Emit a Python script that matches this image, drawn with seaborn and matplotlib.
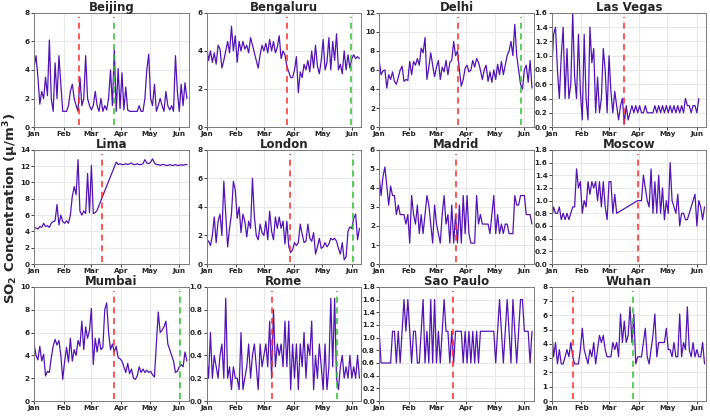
import numpy as np
import pandas as pd
import matplotlib
matplotlib.use("Agg")
import matplotlib.pyplot as plt
import matplotlib.dates as mdates
from matplotlib.ticker import MultipleLocator, FormatStrFormatter
import seaborn as sns

LINE_COLOR = "#5214b4"
TITLESIZE = 8.5
TICKSIZE = 5.2
nan = np.nan

# daily-ish samples, every 2 days from Jan 1 2020
dates = pd.date_range("2020-01-01", periods=81, freq="2D")

beijing = [4.2, 5.0, 3.5, 1.6, 2.5, 2.0, 3.5, 2.2, 6.1, 2.0,
           1.1, 4.5, 2.0, 5.0, 3.0, 1.1, 1.1, 1.1, 1.5, 2.5,
           3.0, 2.0, 1.5, 1.1, 3.5, 1.5, 2.0, 5.0, 2.0, 1.5,
           1.2, 1.5, 2.5, 1.5, 1.1, 2.0, 1.1, 1.5, 1.2, 2.0,
           4.0, 1.5, 5.4, 1.1, 4.1, 1.3, 3.8, 1.2, 2.8, 1.2,
           1.1, 1.1, 1.1, 1.1, 1.1, 1.5, 1.1, 1.1, 2.0, 4.0,
           5.1, 2.0, 1.5, 3.0, 1.1, 1.5, 2.0, 1.5, 1.1, 2.5,
           1.5, 1.2, 1.5, 1.1, 5.0, 2.5, 1.1, 3.0, 1.5, 3.1,
           2.0]
bengaluru = [4.2, 3.5, 4.0, 3.4, 3.9, 3.3, 4.3, 4.1, 3.1, 3.5,
             4.0, 4.5, 3.9, 5.3, 4.0, 4.8, 3.4, 4.5, 4.0, 4.5,
             4.1, 4.3, 3.9, 4.7, 4.3, 3.9, 3.5, 3.1, 3.8, 4.3,
             4.0, 4.4, 3.9, 4.6, 4.0, 4.5, 3.9, 4.2, 4.8, 3.6,
             4.0, 3.8, 3.2, 2.9, 2.6, 2.6, 3.0, 3.7, 1.8, 2.9,
             2.6, 3.3, 3.0, 3.5, 2.9, 4.0, 3.1, 4.3, 3.2, 2.8,
             3.5, 4.6, 3.0, 3.4, 4.7, 3.0, 4.5, 3.5, 4.9, 3.0,
             3.3, 2.8, 4.0, 3.0, 3.8, 3.1, 3.6, 3.8, 3.6, 3.7,
             3.6]
delhi = [7.0, 5.5, 5.9, 6.0, 4.1, 5.5, 5.0, 5.8, 4.8, 4.5,
         5.2, 6.0, 6.4, 4.8, 5.0, 4.9, 6.9, 5.5, 6.9, 6.5,
         7.2, 6.5, 8.3, 7.8, 9.4, 5.0, 6.3, 7.8, 6.5, 5.3,
         6.3, 7.0, 5.0, 6.3, 5.8, 7.0, 5.5, 6.8, 7.0, 9.0,
         7.5, 8.0, 6.0, 4.3, 5.0, 6.2, 6.5, 5.8, 6.0, 7.0,
         6.3, 7.2, 6.8, 6.0, 5.0, 6.0, 6.5, 4.8, 5.8, 4.7,
         6.0, 5.0, 6.6, 5.5, 6.9, 5.5, 6.5, 7.5, 8.0, 9.0,
         7.5, 10.8, 7.5, 6.0, 4.5, 4.0, 6.0, 6.5, 4.7, 7.0,
         4.1]
las_vegas = [0.8, 1.3, 1.4, 0.8, 0.4, 1.0, 1.4, 0.4, 1.1, 0.4,
             0.6, 1.6, 0.7, 0.4, 1.3, 0.5, 0.1, 1.3, 0.4, 0.1,
             1.4, 0.9, 1.1, 0.2, 0.7, 0.2, 0.4, 1.1, 0.8, 0.2,
             1.0, 0.5, 0.2, 0.5, 0.3, 0.1, 0.3, 0.4, 0.05, 0.3,
             0.1, 0.2, 0.3, 0.2, 0.3, 0.2, 0.3, 0.2, 0.2, 0.3,
             0.2, 0.2, 0.2, 0.2, 0.3, 0.2, 0.3, 0.2, 0.3, 0.2,
             0.3, 0.2, 0.3, 0.2, 0.3, 0.2, 0.3, 0.2, 0.3, 0.2,
             0.4, 0.3, 0.3, 0.2, 0.3, 0.3, 0.2, 0.4, nan, nan,
             nan]
lima = [4.5, 4.4, 4.3, 4.6, 4.5, 5.0, 4.6, 4.7, 4.5, 5.0,
        5.2, 5.3, 7.3, 4.8, 6.0, 5.2, 5.0, 5.3, 5.0, 6.0,
        8.3, 9.5, 8.5, 12.8, 6.5, 6.0, 6.5, 6.2, 11.1, 6.3,
        12.1, 6.2, 6.3, 6.6, 7.2, 7.8, nan, nan, nan, nan,
        nan, nan, nan, 12.5, 12.2, 12.3, 12.2, 12.2, 12.3, 12.2,
        12.3, 12.4, 12.2, 12.2, 12.3, 12.2, 12.2, 12.3, 12.8, 12.4,
        12.3, 12.5, 12.9, 12.4, 12.2, 12.2, 12.1, 12.2, 12.2, 12.1,
        12.1, 12.2, 12.1, 12.1, 12.2, 12.1, 12.1, 12.2, 12.1, 12.2,
        12.2]
london = [1.7, 1.6, 1.3, 2.0, 3.3, 1.5, 3.0, 3.5, 2.0, 5.8,
          3.5, 1.2, 2.5, 3.5, 5.8, 5.2, 3.2, 4.0, 2.2, 3.5,
          3.0, 1.9, 3.0, 2.5, 6.0, 3.3, 2.0, 1.7, 2.8, 2.2,
          2.0, 3.0, 1.7, 3.7, 2.3, 1.7, 3.3, 2.5, 3.3, 2.5,
          3.0, 1.4, 3.0, 1.2, 0.8, 1.0, 1.5, 1.3, 1.5, 2.8,
          2.1, 1.5, 1.6, 2.8, 1.8, 1.6, 2.2, 0.7, 1.2, 1.8,
          1.1, 1.2, 1.5, 1.2, 1.4, 1.8, 1.7, 1.8, 1.6, 1.1,
          0.7, 1.5, 0.3, 0.5, 2.3, 2.6, 2.5, 3.2, 3.5, 1.7,
          2.5]
madrid = [4.6, 3.6, 4.6, 5.1, 4.1, 3.1, 4.1, 3.6, 3.6, 2.6,
          3.1, 2.6, 2.6, 2.6, 2.1, 2.6, 1.1, 3.6, 2.6, 2.1,
          3.1, 1.6, 2.6, 1.6, 2.6, 3.6, 3.1, 2.1, 1.1, 3.1,
          2.1, 1.6, 1.1, 2.6, 3.6, 2.1, 2.6, 1.1, 3.1, 1.1,
          2.6, 1.1, 3.1, 1.1, 3.6, 1.6, 3.6, 1.6, 1.1, 1.1,
          1.1, 3.6, 2.1, 2.6, 2.1, 2.1, 2.1, 2.1, 1.6, 2.6,
          3.6, 1.6, 2.6, 1.6, 2.1, 1.6, 2.1, 2.1, 1.6, 1.6,
          1.6, 3.6, 3.1, 3.1, 3.6, 3.6, 3.6, 2.6, 2.6, 2.6,
          2.1]
moscow = [0.7, 0.9, 0.8, 0.8, 0.9, 0.7, 0.8, 0.7, 0.8, 0.7,
          0.8, 0.9, 0.9, 1.5, 1.2, 1.3, 0.8, 1.0, 0.9, 1.3,
          1.1, 1.3, 1.2, 1.3, 1.0, 1.3, 0.9, 1.3, 0.9, 0.7,
          1.3, 1.3, 0.8, 1.1, 0.8, nan, nan, nan, nan, nan,
          nan, nan, nan, nan, nan, 1.0, 1.0, 1.0, 1.4, 1.2,
          1.0, 0.9, 1.5, 0.8, 1.3, 0.8, 1.4, 0.8, 1.2, 0.7,
          1.0, 0.8, 1.6, 1.0, 0.9, 0.8, 1.1, 0.6, 0.8, 0.8,
          0.7, 0.7, nan, nan, nan, 1.1, 0.6, 1.0, 0.9, 0.7,
          0.9]
mumbai = [5.0, 4.0, 3.6, 4.8, 3.5, 4.1, 2.2, 2.6, 2.5, 3.8,
          4.8, 5.4, 4.9, 5.3, 4.0, 1.9, 3.5, 4.7, 3.4, 5.5,
          3.5, 4.5, 4.0, 5.3, 4.8, 7.0, 4.5, 6.5, 5.5, 6.2,
          8.1, 3.2, 5.5, 4.3, 5.5, 4.5, 4.7, 8.0, 8.6, 6.0,
          4.5, 5.0, 4.3, 4.8, 3.8, 3.7, 3.5, 3.0, 2.5, 3.3,
          2.4, 2.8, 2.0, 1.9, 2.2, 3.0, 2.5, 2.8, 2.5, 2.7,
          2.5, 2.6, 2.3, 2.1, 5.0, 7.8, 6.0, 6.2, 6.5, 7.0,
          5.0, 4.5, 4.0, 3.5, 2.5, 2.6, 3.0, 3.2, 3.0, 4.3,
          3.5]
rome = [0.4, 0.2, 0.6, 0.2, 0.4, 0.3, 0.2, 0.4, 0.5, 0.2,
        0.9, 0.2, 0.3, 0.1, 0.3, 0.2, 0.2, 0.1, 0.6, 0.1,
        0.2, 0.3, 0.5, 0.2, 0.4, 0.5, 0.3, 0.1, 0.5, 0.3,
        0.4, 0.5, 0.3, 0.7, 0.2, 0.8, 0.3, 0.5, 0.4, 0.5,
        0.3, 0.7, 0.3, 0.7, 0.1, 0.5, 0.2, 0.5, 0.1, 0.5,
        0.3, 0.6, 0.2, 0.5, 0.4, 0.7, 0.1, 0.4, 0.2, 0.5,
        0.3, 0.1, 0.5, 0.1, 0.3, 0.9, 0.3, 0.9, 0.2, 0.1,
        0.3, 0.4, 0.2, 0.3, 0.2, 0.4, 0.2, 0.3, 0.2, 0.4,
        0.2]
sao_paulo = [1.1, 0.6, 0.6, 0.6, 0.6, 0.6, 0.6, 1.1, 1.1, 0.6,
             1.1, 0.6, 1.1, 1.6, 1.1, 1.6, 1.1, 0.6, 1.1, 1.1,
             0.6, 0.6, 1.1, 1.6, 0.6, 1.1, 0.6, 1.6, 0.6, 1.6,
             0.6, 1.1, 0.6, 1.1, 1.6, 1.1, 1.1, 0.6, 1.1, 0.6,
             1.1, 1.1, 1.1, 1.1, 0.6, 1.1, 0.6, 1.1, 0.6, 1.1,
             0.6, 1.1, 0.6, 1.1, 1.1, 1.1, 1.1, 1.1, 1.1, 1.1,
             1.1, 0.6, 1.1, 1.6, 1.1, 0.6, 1.1, 1.6, 1.1, 0.6,
             1.6, 1.1, 0.6, 1.1, 1.6, 1.6, 1.1, 1.1, 1.1, 0.6,
             1.1]
wuhan = [5.0, 3.1, 4.1, 2.6, 3.6, 2.6, 2.6, 3.1, 3.6, 3.1,
         4.1, 3.1, 2.6, 2.6, 2.6, 3.6, 5.1, 3.6, 3.1, 2.6,
         3.6, 3.1, 4.1, 2.6, 3.6, 4.6, 4.1, 4.6, 3.6, 3.1,
         3.1, 3.1, 4.1, 3.6, 4.1, 3.1, 6.1, 4.1, 5.6, 4.1,
         4.6, 6.6, 4.1, 6.1, 2.6, 3.1, 3.1, 3.1, 4.1, 5.1,
         3.1, 2.6, 3.6, 4.6, 6.1, 3.1, 4.1, 4.1, 4.1, 4.1,
         5.1, 3.6, 3.6, 3.1, 4.1, 3.1, 3.1, 6.1, 3.1, 4.1,
         3.6, 6.6, 3.6, 3.1, 4.1, 3.1, 3.6, 3.1, 3.1, 4.1,
         2.6]

cities = ["Beijing", "Bengaluru", "Delhi", "Las Vegas",
          "Lima", "London", "Madrid", "Moscow",
          "Mumbai", "Rome", "Sao Paulo", "Wuhan"]
series = [beijing, bengaluru, delhi, las_vegas, lima, london,
          madrid, moscow, mumbai, rome, sao_paulo, wuhan]
ymax = [8, 6, 12, 1.6, 14, 8, 6, 1.8, 10, 1.0, 1.8, 8]
ystep = [2, 2, 2, 0.2, 2, 2, 1, 0.2, 2, 0.2, 0.2, 1]
red_dates = ["2020-02-17", "2020-03-25", "2020-03-24", "2020-03-17",
             "2020-03-12", "2020-03-28", "2020-03-21", "2020-03-31",
             "2020-03-25", "2020-03-09", "2020-03-18", "2020-01-23"]
green_dates = ["2020-03-25", "2020-05-31", "2020-05-29", None,
               None, "2020-06-02", None, None,
               "2020-06-02", "2020-05-16", None, "2020-03-26"]

df = pd.DataFrame({
    "date": np.tile(dates, len(cities)),
    "city": np.repeat(cities, len(dates)),
    "so2": np.concatenate(series),
}).dropna()

#%%
sns.set_style("whitegrid", {"grid.color": "#e8e8e8", "axes.edgecolor": "#7a7a7a"})
plt.rcParams["font.family"] = ["DejaVu Sans"]

fig, axes = plt.subplots(3, 4, figsize=(7.1, 4.16), dpi=100)
fig.subplots_adjust(left=0.048, right=0.995, top=0.969, bottom=0.036,
                    wspace=0.115, hspace=0.2)

for i, ax in enumerate(axes.flat):
    city = cities[i]
    sns.lineplot(data=df[df.city == city], x="date", y="so2", ax=ax,
                 color=LINE_COLOR, lw=0.9)
    ax.axvline(pd.Timestamp(red_dates[i]), ymin=0.02, ymax=0.96,
               color="#ff2a2a", ls=(0, (4, 3)), lw=1.1)
    if green_dates[i] is not None:
        ax.axvline(pd.Timestamp(green_dates[i]), ymin=0.02, ymax=0.96,
                   color="#2ec02e", ls=(0, (4, 3)), lw=1.1)
    ax.set_xlim(pd.Timestamp("2020-01-01"), pd.Timestamp("2020-06-11"))
    ax.set_ylim(0, ymax[i])
    ax.yaxis.set_major_locator(MultipleLocator(ystep[i]))
    ax.yaxis.set_major_formatter(FormatStrFormatter("%.1f" if ystep[i] < 1 else "%d"))
    ax.xaxis.set_major_locator(mdates.MonthLocator())
    ax.xaxis.set_major_formatter(mdates.DateFormatter("%b"))
    ax.set_xlabel("")
    ax.set_ylabel("")
    ax.set_title(city, fontsize=TITLESIZE, fontweight="bold", pad=1.5)
    ax.tick_params(labelsize=TICKSIZE, length=2, width=0.6, pad=1,
                   bottom=True, left=True)
    for lab in ax.get_xticklabels() + ax.get_yticklabels():
        lab.set_fontweight("bold")
    for sp in ax.spines.values():
        sp.set_linewidth(0.7)

fig.text(0.016, 0.5, r"SO$_\mathbf{2}$ Concentration (μ/m$^\mathbf{3}$)",
         rotation=90, va="center", ha="center", fontsize=9.5, fontweight="bold")
plt.savefig("out.png", dpi=100)
